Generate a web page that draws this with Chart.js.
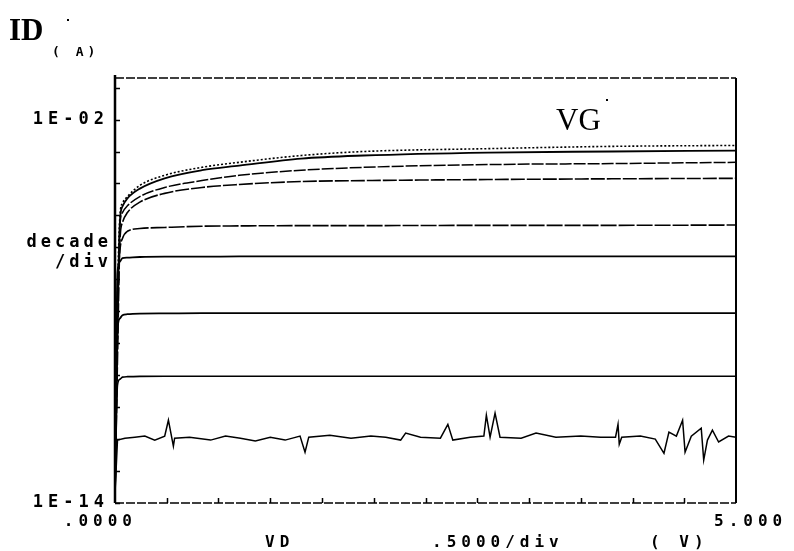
<!DOCTYPE html>
<html>
<head>
<meta charset="utf-8">
<script src="https://cdn.jsdelivr.net/npm/chart.js@4/dist/chart.umd.min.js"></script>
<style>
  html, body { margin: 0; padding: 0; background: #fff; }
  #wrap { width: 794px; height: 551px; position: relative; }
</style>
</head>
<body>
<div id="wrap"><canvas id="chart" width="794" height="551"></canvas></div>
<script>
// VD sweep (V) shared by the VG curves
const vdSweep = [0, 0.02, 0.04, 0.06, 0.1, 0.2, 0.4, 0.7, 1.0, 1.5, 2.0, 3.0, 4.0, 5.0];

// ID (A) for each VG step, top curve first
const id1 = [2e-14, 2.2e-8, 1.0e-5, 2.4e-5, 3.9e-5, 8.7e-5, 1.8e-4, 3.2e-4, 4.6e-4, 7.5e-4, 1.0e-3, 1.23e-3, 1.45e-3, 1.55e-3];
const id2 = [2e-14, 5.2e-9, 6.9e-6, 1.9e-5, 3.4e-5, 6.9e-5, 1.45e-4, 2.6e-4, 3.6e-4, 6.0e-4, 7.5e-4, 9.3e-4, 1.0e-3, 1.07e-3];
const id3 = [2e-14, 1.2e-9, 4.9e-6, 1.23e-5, 2.0e-5, 3.9e-5, 7.5e-5, 1.23e-4, 1.8e-4, 2.6e-4, 3.2e-4, 3.9e-4, 4.2e-4, 4.6e-4];
const id4 = [2e-14, 3.0e-10, 1.66e-6, 6.0e-6, 1.23e-5, 2.6e-5, 4.9e-5, 7.5e-5, 9.3e-5, 1.15e-4, 1.23e-4, 1.33e-4, 1.4e-4, 1.45e-4];
const id5 = [2e-14, 2.2e-8, 8.1e-7, 1.9e-6, 3.2e-6, 3.9e-6, 4.2e-6, 4.6e-6, 4.7e-6, 4.8e-6, 4.8e-6, 4.9e-6, 4.9e-6, 5.0e-6];
const id6 = [2e-14, 1.66e-7, 3.6e-7, 4.6e-7, 4.8e-7, 5.0e-7, 5.1e-7, 5.1e-7, 5.2e-7, 5.2e-7, 5.2e-7, 5.2e-7, 5.2e-7, 5.2e-7];
const id7 = [2e-14, 2.6e-9, 6.0e-9, 7.5e-9, 8.1e-9, 8.5e-9, 8.6e-9, 8.7e-9, 8.7e-9, 8.7e-9, 8.7e-9, 8.7e-9, 8.7e-9, 8.7e-9];
const id8 = [2e-14, 4.9e-11, 7.5e-11, 8.7e-11, 9.0e-11, 9.2e-11, 9.3e-11, 9.3e-11, 9.3e-11, 9.3e-11, 9.3e-11, 9.3e-11, 9.3e-11, 9.3e-11];

// lowest (off) curve, noisy floor around 1E-12
const noiseVD = [0, 0.02, 0.08, 0.16, 0.24, 0.32, 0.40, 0.43, 0.47, 0.48, 0.60, 0.77, 0.89, 1.01, 1.13, 1.25, 1.37, 1.49, 1.53, 1.56,
  1.73, 1.90, 2.06, 2.18, 2.30, 2.34, 2.46, 2.62, 2.68, 2.72, 2.86, 2.97, 2.99, 3.02, 3.06, 3.10, 3.27, 3.39, 3.55, 3.75,
  3.91, 4.03, 4.05, 4.06, 4.08, 4.23, 4.35, 4.42, 4.46, 4.52, 4.57, 4.59, 4.64, 4.72, 4.74, 4.77, 4.81, 4.86, 4.94, 5.0];
const noiseID = [2e-14, 9.3e-13, 1.07e-12, 1.15e-12, 1.24e-12, 9.3e-13, 1.24e-12, 3.9e-12, 6.0e-13, 1.07e-12, 1.15e-12, 9.3e-13, 1.24e-12, 1.07e-12, 8.7e-13, 1.15e-12, 9.3e-13, 1.24e-12, 3.9e-13, 1.15e-12,
  1.33e-12, 1.07e-12, 1.24e-12, 1.15e-12, 9.3e-13, 1.55e-12, 1.15e-12, 1.07e-12, 2.9e-12, 9.3e-13, 1.15e-12, 1.24e-12, 5.6e-12, 1.15e-12, 6.5e-12, 1.15e-12, 1.07e-12, 1.55e-12, 1.15e-12, 1.24e-12,
  1.15e-12, 1.15e-12, 2.9e-12, 6.9e-13, 1.15e-12, 1.24e-12, 1.0e-12, 3.6e-13, 1.66e-12, 1.24e-12, 3.9e-12, 3.9e-13, 1.24e-12, 2.2e-12, 2.2e-13, 9.3e-13, 1.9e-12, 8.1e-13, 1.24e-12, 1.15e-12];

// axis ticks and labels (labels padded so they sit off-centre like the plotter's)
const xTicks = [0, 0.4167, 0.8333, 1.25, 1.6667, 2.0833, 2.5, 2.9167, 3.3333, 3.75, 4.1667, 4.5833, 5];
const xTickLabels = { 0: '.0000  ', 5: '  5.000' };
const yTicks = [1e-14, 1e-13, 1e-12, 1e-11, 1e-10, 1e-9, 1e-8, 1e-7, 1e-6, 1e-5, 1e-4, 1e-3, 1e-2, 1e-1];
const yTickLabels = { '-2': '1E-02', '-14': '1E-14' };

const MONO = '"DejaVu Sans Mono", "Liberation Mono", monospace';
const SPACING = '5px';

function pts(xs, ys) {
  return xs.map((x, i) => ({ x: x, y: ys[i] }));
}

function curve(data, dash, width) {
  return {
    data: data,
    borderColor: '#000',
    borderWidth: width || 1.6,
    borderDash: dash || [],
    pointRadius: 0,
    cubicInterpolationMode: 'monotone',
    fill: false
  };
}

const datasets = [
  curve(pts(vdSweep, id1), [2, 2], 1.6),
  curve(pts(vdSweep, id2), [], 1.8),
  curve(pts(vdSweep, id3), [12, 2], 1.5),
  curve(pts(vdSweep, id4), [14, 2], 1.6),
  curve(pts(vdSweep, id5), [16, 2], 1.6),
  curve(pts(vdSweep, id6), [], 1.8),
  curve(pts(vdSweep, id7), [], 1.8),
  curve(pts(vdSweep, id8), [], 1.6),
  { data: pts(noiseVD, noiseID), borderColor: '#000', borderWidth: 1.5, pointRadius: 0, tension: 0, fill: false }
];

const frame = {
  id: 'frame',
  beforeDraw(chart) {
    chart.ctx.letterSpacing = SPACING;
  },
  afterDraw(chart) {
    const ctx = chart.ctx;
    const a = chart.chartArea;
    const xs = chart.scales.x, ys = chart.scales.y;
    ctx.save();
    ctx.strokeStyle = '#000';
    ctx.fillStyle = '#000';
    // box
    ctx.lineWidth = 2.5;
    ctx.beginPath();
    ctx.moveTo(a.left, a.top - 3); ctx.lineTo(a.left, a.bottom);
    ctx.stroke();
    ctx.lineWidth = 2;
    ctx.beginPath();
    ctx.moveTo(a.right, a.top); ctx.lineTo(a.right, a.bottom);
    ctx.stroke();
    ctx.lineWidth = 1.5;
    ctx.setLineDash([9, 2]);
    ctx.beginPath();
    ctx.moveTo(a.left, a.top); ctx.lineTo(a.right, a.top);
    ctx.moveTo(a.left, a.bottom); ctx.lineTo(a.right, a.bottom);
    ctx.stroke();
    ctx.setLineDash([]);
    // inside ticks
    ctx.lineWidth = 1.5;
    ctx.beginPath();
    yTicks.forEach(v => {
      const p = Math.round(ys.getPixelForValue(v)) + 0.5;
      ctx.moveTo(a.left, p); ctx.lineTo(a.left + 5, p);
    });
    xTicks.slice(1, -1).forEach(v => {
      const p = Math.round(xs.getPixelForValue(v)) + 0.5;
      ctx.moveTo(p, a.bottom); ctx.lineTo(p, a.bottom - 5);
    });
    ctx.stroke();

    // titles
    ctx.letterSpacing = '0px';
    ctx.font = 'bold 31px "Liberation Serif", serif';
    ctx.textAlign = 'left';
    ctx.textBaseline = 'alphabetic';
    ctx.fillText('ID', 9, 40);
    ctx.fillRect(67, 19, 2, 2);
    ctx.font = '31px "Liberation Serif", serif';
    ctx.fillText('VG', 556, 130);
    ctx.fillRect(606, 99, 2, 2);

    ctx.letterSpacing = '4px';
    ctx.font = 'bold 13px ' + MONO;
    ctx.fillText('( A)', 52, 56);

    ctx.letterSpacing = '4px';
    ctx.font = 'bold 17px ' + MONO;
    ctx.textAlign = 'right';
    ctx.fillText('decade', 112, 247);
    ctx.fillText('/div', 112, 267);
    ctx.textAlign = 'left';
    ctx.letterSpacing = SPACING;
    ctx.font = 'bold 16px ' + MONO;
    ctx.fillText('VD', 265, 547);
    ctx.fillText('.5000/div', 432, 547);
    ctx.fillText('( V)', 650, 547);
    ctx.restore();
  }
};

new Chart(document.getElementById('chart'), {
  type: 'line',
  data: { datasets: datasets },
  plugins: [frame],
  options: {
    responsive: false,
    animation: false,
    events: [],
    layout: { padding: { top: 78, right: 58, left: 0, bottom: 0 } },
    plugins: { legend: { display: false }, tooltip: { enabled: false } },
    scales: {
      x: {
        type: 'linear',
        min: 0,
        max: 5,
        grid: { display: false },
        border: { display: false },
        afterFit(scale) { scale.height = 48; },
        afterBuildTicks(scale) { scale.ticks = xTicks.map(v => ({ value: v })); },
        ticks: {
          autoSkip: false,
          maxRotation: 0,
          padding: 1,
          color: '#000',
          font: { family: MONO, size: 16, weight: 'bold' },
          callback: v => xTickLabels[v] || ''
        }
      },
      y: {
        type: 'logarithmic',
        min: 1e-14,
        max: 2e-1,
        grid: { display: false },
        border: { display: false },
        afterFit(scale) { scale.width = 115; },
        afterBuildTicks(scale) { scale.ticks = yTicks.map(v => ({ value: v })); },
        ticks: {
          autoSkip: false,
          padding: -2,
          color: '#000',
          font: { family: MONO, size: 17, weight: 'bold' },
          callback: v => yTickLabels[String(Math.round(Math.log10(v)))] || ''
        }
      }
    }
  }
});
</script>
</body>
</html>
